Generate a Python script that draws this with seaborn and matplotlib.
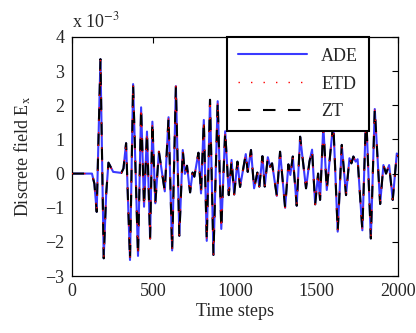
import numpy as np
import pandas as pd
import matplotlib
matplotlib.use('Agg')
import matplotlib.pyplot as plt
import seaborn as sns

# Data (field in units of 1e-3)
time_steps = [0, 125, 140, 154, 177, 197, 212, 226, 255, 305, 318, 334, 358, 377,
              407, 426, 444, 462, 481, 495, 513, 535, 571, 594, 616, 639, 660, 681,
              694, 707, 726, 741, 752, 777, 793, 810, 828, 848, 869, 895, 917, 941,
              963, 980, 996, 1016, 1032, 1067, 1079, 1099, 1118, 1138, 1150, 1169,
              1183, 1202, 1216, 1228, 1257, 1277, 1308, 1328, 1340, 1355, 1379, 1400,
              1436, 1457, 1473, 1492, 1510, 1522, 1542, 1563, 1603, 1630, 1655, 1681,
              1702, 1714, 1726, 1740, 1752, 1781, 1804, 1833, 1857, 1890, 1910, 1926,
              1945, 1967, 1992, 2000]
field_ex = [0.0, 0.0, -0.3, -1.12, 3.35, -2.48, -0.6, 0.32, 0.05, 0.02, 0.15, 0.89,
            -2.53, 2.62, -2.41, 1.94, -0.97, 1.23, -1.9, 1.52, -0.87, 0.64, -0.52,
            1.65, -2.25, 2.56, -1.82, 0.69, -0.01, 0.23, -0.55, 0.03, -0.09, 0.61,
            -0.58, 1.57, -1.97, 2.16, -2.38, 2.12, -1.62, 1.24, -0.63, 0.4, -0.61,
            0.35, -0.39, 0.57, 0.05, 0.69, -0.43, 0.03, -0.38, 0.51, -0.38, 0.48,
            0.2, 0.3, -0.65, 0.64, -1.0, 0.27, -0.04, 0.5, -0.94, 1.08, -0.43, 0.35,
            0.7, -0.9, 0.0, -0.77, 1.4, -0.48, 1.5, -1.7, 0.84, -0.63, 0.45, 0.3,
            0.5, 0.35, 0.42, -1.66, 1.8, -1.9, 1.89, -0.89, 0.25, 0.0, 0.25, -0.77,
            0.59, 0.5]
methods = ['ADE', 'ETD', 'ZT']

df = pd.DataFrame({'t': time_steps, 'Ex': field_ex})

sns.set_theme(style='white')
plt.rcParams['font.family'] = ['Liberation Serif', 'DejaVu Serif']
plt.rcParams['mathtext.fontset'] = 'stix'

fig = plt.figure(figsize=(4.16, 3.33), dpi=100)
ax = fig.add_axes([0.172, 0.171, 0.785, 0.718])

sns.lineplot(data=df, x='t', y='Ex', ax=ax, color='#3a3aff', lw=1.5,
             label=methods[0], sort=False, zorder=2)
sns.lineplot(data=df, x='t', y='Ex', ax=ax, color='red', lw=1.0,
             linestyle=(0, (1, 8)), label=methods[1], sort=False, zorder=4)
sns.lineplot(data=df, x='t', y='Ex', ax=ax, color='black', lw=1.5,
             linestyle=(0, (6, 6)), label=methods[2], sort=False, zorder=3)

ax.set_xlim(0, 2000)
ax.set_ylim(-3, 4)
ax.set_xticks([0, 500, 1000, 1500, 2000])
ax.set_yticks(range(-3, 5))
ax.tick_params(direction='in', top=True, right=True, length=4, width=0.8,
               labelsize=13, color='black', pad=5)
for s in ax.spines.values():
    s.set_color('black')
    s.set_linewidth(0.9)
ax.set_xlabel('Time steps', fontsize=13, labelpad=2)
ax.set_ylabel(r'Discrete field E$_{\mathrm{x}}$', fontsize=13, labelpad=9)
ax.text(0.0, 1.025, r'x 10$^{-3}$', transform=ax.transAxes, fontsize=13,
        ha='left', va='bottom')

leg = ax.legend(loc='upper right', bbox_to_anchor=(0.911, 1.0), borderaxespad=0,
                fontsize=13, handlelength=3.8, labelspacing=0.6, borderpad=0.6,
                fancybox=False, framealpha=1, edgecolor='black')
leg.get_frame().set_linewidth(1.5)

fig.savefig('out.png', dpi=100)
